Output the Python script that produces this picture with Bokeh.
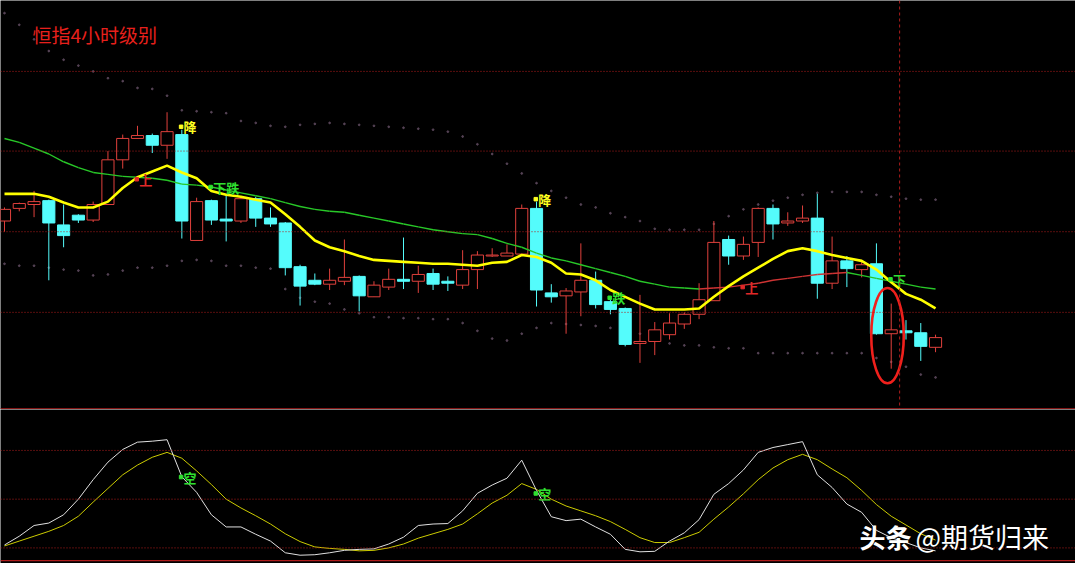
from bokeh.plotting import figure
from bokeh.models import Range1d, Span, Label, ColumnDataSource
from bokeh.layouts import column
from bokeh.embed import file_html
from bokeh.resources import INLINE
from bokeh.core.properties import value

# ---------------- data (HSI, 4-hour bars) ----------------
opens = [23730, 23860, 23900, 23940, 23690, 23790, 23740, 23900, 24360, 24580,
         24610, 24510, 24620, 23530, 23940, 23750, 23730, 23960, 23760, 23710,
         23260, 23120, 23080, 23110, 23160, 22950, 23050, 23130, 23110, 23190,
         23110, 23070, 23230, 23370, 23370, 23390, 23860, 22990, 22960, 23000,
         23120, 22900, 22830, 22470, 22490, 22560, 22670, 22770, 22910, 23540,
         23370, 23510, 23860, 23710, 23730, 23760, 23090, 23320, 23230, 23290,
         22570, 22600, 22580, 22430]
closes = [23850, 23910, 23930, 23710, 23580, 23740, 23900, 24360, 24580, 24610,
          24510, 24650, 23730, 23930, 23740, 23730, 23960, 23760, 23700, 23250,
          23060, 23080, 23120, 23150, 22960, 23070, 23130, 23110, 23180, 23080,
          23090, 23230, 23380, 23380, 23400, 23860, 23020, 22950, 23010, 23120,
          22870, 22820, 22460, 22490, 22610, 22680, 22770, 22920, 23510, 23370,
          23490, 23860, 23700, 23730, 23760, 23090, 23320, 23240, 23280, 22570,
          22610, 22580, 22440, 22530]
highs = [23870, 23920, 24040, 23950, 23900, 23800, 23930, 24450, 24620, 24710,
         24630, 24850, 24670, 23970, 23950, 24000, 23980, 23980, 23870, 23720,
         23280, 23190, 23240, 23540, 23170, 23110, 23240, 23560, 23270, 23240,
         23160, 23430, 23420, 23450, 23490, 23900, 23930, 23080, 23040, 23500,
         23210, 22950, 22840, 22970, 22690, 22780, 22790, 23090, 23730, 23580,
         23570, 23870, 23900, 23820, 23890, 24010, 23570, 23370, 23330, 23500,
         22880, 22710, 22680, 22560]
lows = [23620, 23830, 23770, 23120, 23460, 23710, 23720, 23900, 24270, 24580,
        24430, 24370, 23550, 23530, 23690, 23520, 23710, 23670, 23670, 23170,
        22860, 23070, 23020, 23070, 22800, 22950, 23020, 23030, 22990, 23020,
        23010, 23030, 23030, 23360, 23370, 23390, 22850, 22890, 22570, 22750,
        22830, 22770, 22440, 22270, 22350, 22510, 22620, 22720, 22910, 23280,
        23330, 23360, 23540, 23680, 23710, 22930, 23030, 23050, 23150, 22560,
        22210, 22510, 22290, 22380]

ma_fast = [24010, 24010, 24010, 23980, 23920, 23870, 23870, 23930, 24070, 24180,
           24240, 24300, 24230, 24170, 24040, 24000, 23980, 23950, 23920, 23800,
           23670, 23530, 23460, 23420, 23370, 23330, 23320, 23310, 23300, 23290,
           23290, 23280, 23270, 23300, 23310, 23380, 23360, 23300, 23190, 23180,
           23120, 23020, 22950, 22880, 22820, 22820, 22820, 22830, 22950, 23060,
           23160, 23250, 23340, 23420, 23450, 23420, 23380, 23350, 23320, 23230,
           23100, 22980, 22920, 22830]
ma_slow = [24580, 24540, 24480, 24420, 24340, 24280, 24230, 24210, 24190, 24180,
           24170, 24150, 24110, 24100, 24080, 24050, 24020, 23990, 23960, 23920,
           23880, 23850, 23830, 23820, 23790, 23760, 23730, 23700, 23670, 23640,
           23620, 23600, 23590, 23550, 23500, 23460, 23400, 23350, 23320, 23280,
           23240, 23200, 23160, 23110, 23080, 23050, 23040, 23030, 23040, 23050,
           23070, 23090, 23120, 23140, 23160, 23180, 23190, 23200, 23170, 23140,
           23110, 23080, 23050, 23030]
band_upper = [25870, 25750, 25600, 25480, 25390, 25330, 25270, 25200, 25170, 25100,
              25090, 25020, 24870, 24860, 24850, 24840, 24760, 24740, 24710, 24700,
              24720, 24730, 24740, 24730, 24720, 24710, 24700, 24690, 24680, 24670,
              24650, 24600, 24520, 24420, 24320, 24220, 24120, 24040, 23970, 23900,
              23870, 23810, 23770, 23730, 23650, 23640, 23640, 23640, 23700, 23780,
              23850, 23900, 23940, 23970, 24000, 24020, 24030, 24030, 24030, 24000,
              23980, 23960, 23950, 23950]
band_lower = [23290, 23270, 23270, 23250, 23230, 23220, 23170, 23180, 23220, 23250,
              23250, 23270, 23320, 23330, 23320, 23270, 23270, 23250, 23240, 23030,
              22940, 22900, 22880, 22820, 22780, 22740, 22740, 22730, 22730, 22720,
              22720, 22680, 22600, 22520, 22500, 22570, 22630, 22680, 22670, 22660,
              22650, 22630, 22600, 22570, 22500, 22470, 22450, 22450, 22430, 22420,
              22420, 22370, 22370, 22370, 22370, 22370, 22370, 22370, 22370, 22320,
              22280, 22230, 22150, 22120]

osc_k = [21.8, 27.2, 33.8, 35.3, 40.4, 50.0, 62.0, 72.8, 80.6, 85.1,
         85.7, 86.6, 63.8, 54.2, 40.4, 32.9, 32.9, 28.4, 24.2, 17.0,
         15.5, 15.8, 17.0, 18.5, 19.1, 19.4, 22.4, 26.6, 33.8, 34.7,
         35.0, 42.8, 53.6, 58.7, 62.9, 74.0, 55.4, 39.2, 36.8, 37.7,
         32.9, 28.4, 19.1, 17.6, 17.9, 24.2, 29.3, 37.4, 53.0, 59.6,
         68.0, 78.8, 81.8, 83.6, 85.4, 65.0, 57.2, 47.0, 41.9, 30.8,
         26.3, 23.3, 20.0, 18.2]
osc_d = [21.2, 24.2, 27.2, 30.2, 33.8, 39.5, 48.2, 56.6, 65.0, 71.0,
         75.8, 78.8, 75.2, 67.4, 59.0, 50.0, 44.6, 39.8, 34.7, 28.7,
         23.9, 20.6, 19.7, 19.1, 18.2, 18.5, 20.0, 22.4, 26.0, 28.7,
         31.4, 34.7, 41.0, 47.6, 52.4, 59.6, 56.0, 50.0, 45.8, 42.8,
         39.8, 36.2, 31.4, 26.3, 23.3, 23.3, 26.3, 29.6, 37.7, 45.2,
         53.3, 62.0, 69.2, 74.3, 77.6, 74.3, 68.6, 63.2, 55.4, 46.7,
         39.5, 34.1, 28.7, 24.8]

sig_idx = [12, 14, 9, 36, 41, 50, 60]
sig_level = [24700, 24080, 24160, 23955, 22940, 23050, 23130]
sig_text = ["降", "下跌", "上", "降", "跌", "上", "下"]
sig_kind = ["sell", "down", "up", "sell", "down", "up", "down"]

osc_sig_idx = [12, 36]
osc_sig_level = [63.6, 53.5]
osc_sig_text = ["空", "空"]

main_levels = [25270, 24450, 23620, 22790]
osc_levels = [80, 50, 20]
cursor_x = 60.57
mark_x, mark_y, mark_w, mark_h = 59.75, 22550, 2.2, 980

title_text = "恒指4小时级别"

# ---------------- styling ----------------
RED = "#e0403c"
CYAN = "#54fcfc"
GRID = "#b01c1c"
FONT = "Noto Sans CJK SC"
kind_color = {"sell": "#ffff20", "down": "#30e030", "up": "#e02828"}

W = 1075
H_MAIN, H_OSC = 409, 154
xr = Range1d(-0.27, 72.47)


def base_fig(h, yr):
    f = figure(width=W, height=h, x_range=xr, y_range=yr,
               output_backend="svg", toolbar_location=None,
               x_axis_location=None, y_axis_location=None,
               background_fill_color="black", border_fill_color="black",
               min_border=0, outline_line_color=None)
    f.grid.visible = False
    return f


idx = list(range(len(opens)))
p = base_fig(H_MAIN, Range1d(21790, 26000))

for lv in main_levels:
    p.add_layout(Span(location=lv, dimension="width", line_color=GRID,
                      line_dash="1 2", line_width=1))
p.add_layout(Span(location=21797, dimension="width", line_color=GRID, line_width=1.2))
p.add_layout(Span(location=cursor_x, dimension="height", line_color=GRID,
                  line_dash="3 3", line_width=1))

# band dots (faint)
p.scatter(idx, band_upper, size=1.8, color="#5e4a5e", alpha=0.85)
p.scatter(idx, band_lower, size=1.8, color="#5e4a5e", alpha=0.85)

up = [c >= o for o, c in zip(opens, closes)]
src = ColumnDataSource(dict(
    x=idx, o=opens, c=closes, h=highs, l=lows,
    top=[max(o, c) for o, c in zip(opens, closes)],
    bot=[min(o, c) for o, c in zip(opens, closes)],
    col=[RED if u else CYAN for u in up],
    fill=["black" if u else CYAN for u in up],
))
p.segment("x", "h", "x", "l", source=src, color="col", line_width=1)
p.vbar(x="x", top="top", bottom="bot", width=0.82, source=src,
       fill_color="fill", line_color="col", line_width=1)

# slow MA coloured by direction
seg_col = ["#d03434" if ma_slow[i + 1] > ma_slow[i] else "#28c828" for i in range(len(idx) - 1)]
p.segment(idx[:-1], ma_slow[:-1], idx[1:], ma_slow[1:], color=seg_col, line_width=1.4)
# fast MA
p.line(idx, ma_fast, color="#ffff00", line_width=2.6)

# signals
sig_col = [kind_color[k] for k in sig_kind]
p.scatter([i - 0.05 for i in sig_idx], sig_level, marker="square", size=3.5, color=sig_col)
p.text([i + 0.12 for i in sig_idx], sig_level, text=sig_text, text_color=sig_col,
       text_font=value(FONT), text_font_size=value("13px"), text_font_style="bold",
       text_baseline="middle", text_align="left")

# highlight ellipse
p.ellipse(x=[mark_x], y=[mark_y], width=mark_w, height=mark_h,
          fill_alpha=0, line_color="#f0201c", line_width=2.6)

p.add_layout(Label(x=32, y=H_MAIN - 34, x_units="screen", y_units="screen",
                   text=title_text, text_color="#e8201c", text_font=FONT,
                   text_font_size="19px", text_baseline="middle"))

# ---------------- oscillator ----------------
q = base_fig(H_OSC, Range1d(10.4, 105.2))
for lv in osc_levels:
    q.add_layout(Span(location=lv, dimension="width", line_color=GRID,
                      line_dash="1 2", line_width=1))
q.add_layout(Span(location=12.2, dimension="width", line_color=GRID, line_width=1.2))
q.line(idx, osc_d, color="#cccc00", line_width=1)
q.line(idx, osc_k, color="#e0e0e0", line_width=1)
q.scatter([i - 0.05 for i in osc_sig_idx], osc_sig_level, marker="square", size=3.5, color="#30e030")
q.text([i + 0.12 for i in osc_sig_idx], osc_sig_level, text=osc_sig_text, text_color="#30e030",
       text_font=value(FONT), text_font_size=value("13px"), text_font_style="bold",
       text_baseline="middle", text_align="left")

q.add_layout(Label(x=859, y=27, x_units="screen", y_units="screen", text="头条",
                   text_color="white", text_font=FONT, text_font_size="26px",
                   text_font_style="bold", text_baseline="middle"))
q.add_layout(Label(x=915, y=27, x_units="screen", y_units="screen", text="@期货归来",
                   text_color="white", text_font=FONT, text_font_size="27px",
                   text_baseline="middle"))

layout = column(p, q, spacing=0)
open("out.html", "w").write(file_html(layout, INLINE))
